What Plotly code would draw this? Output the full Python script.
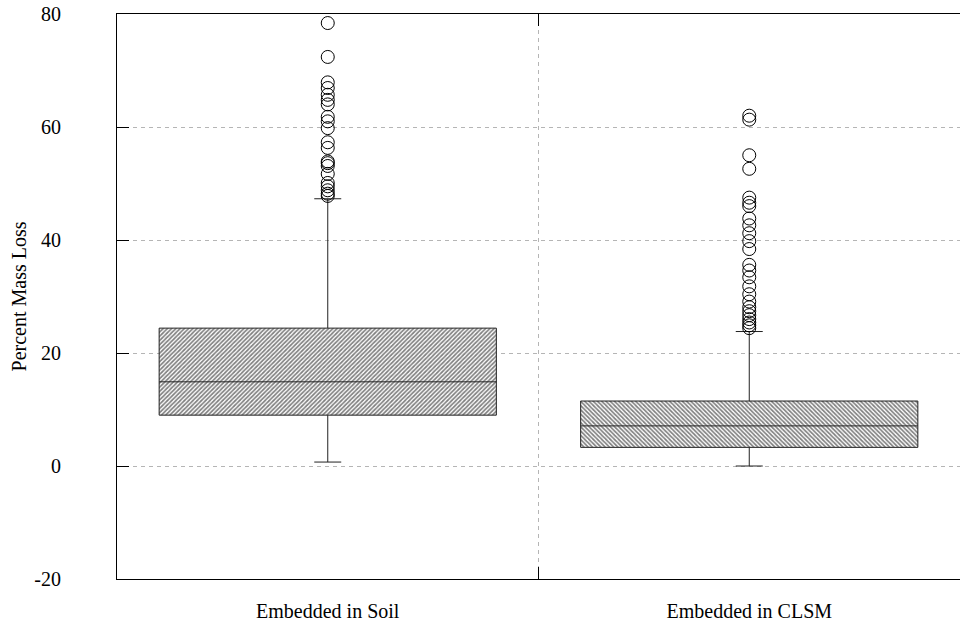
import plotly.graph_objects as go

categories = ["Embedded in Soil", "Embedded in CLSM"]
q1 = [9.0, 3.3]
median = [14.9, 7.1]
q3 = [24.4, 11.5]
lower_fence = [0.7, 0.0]
upper_fence = [47.3, 23.8]

soil_outliers = [78.4, 72.4, 67.9, 66.9, 65.7, 64.8, 64.0, 61.8, 61.0, 59.8, 57.3, 56.3,
                 53.9, 53.6, 53.1, 51.7, 50.1, 49.5, 48.8, 48.2, 47.8]
clsm_outliers = [62.0, 61.3, 55.0, 52.6, 47.5, 46.6, 46.0, 43.8, 42.6, 41.2, 39.8, 38.4,
                 35.6, 34.6, 33.4, 31.8, 30.4, 29.1, 28.1, 27.4, 26.7, 26.0, 25.4, 24.9, 24.4]
patterns = ["/", "\\"]
tick_vals = [-20, 0, 20, 40, 60, 80]
tick_text = ["-20", "0", "20", "40", "60", "80"]

FONT = "Liberation Serif"
FS = 20

fig = go.Figure()

for i, cat in enumerate(categories):
    fig.add_trace(go.Bar(
        x=[cat], y=[q3[i] - q1[i]], base=[q1[i]], width=0.8,
        marker=dict(color="white", line=dict(width=0),
                    pattern=dict(shape=patterns[i], fgcolor="black", bgcolor="white",
                                 size=3, solidity=0.55)),
        showlegend=False, hoverinfo="skip"))

for i, cat in enumerate(categories):
    fig.add_trace(go.Box(
        x=[cat], q1=[q1[i]], median=[median[i]], q3=[q3[i]],
        lowerfence=[lower_fence[i]], upperfence=[upper_fence[i]],
        width=0.8, whiskerwidth=0.08, boxpoints=False,
        fillcolor="rgba(0,0,0,0)", line=dict(color="#222222", width=1),
        showlegend=False))

for cat, vals in zip(categories, [soil_outliers, clsm_outliers]):
    fig.add_trace(go.Scatter(
        x=[cat] * len(vals), y=vals, mode="markers",
        marker=dict(symbol="circle-open", size=13, color="black", line=dict(width=1)),
        showlegend=False))

fig.update_layout(
    width=960, height=628,
    margin=dict(l=117, r=0, t=14, b=49),
    plot_bgcolor="white", paper_bgcolor="white",
    barmode="overlay", boxmode="overlay",
    font=dict(family=FONT, size=FS, color="black"),
)
fig.update_xaxes(
    type="category", categoryorder="array", categoryarray=categories,
    range=[-0.5, 1.5], tickson="boundaries", automargin=False,
    ticks="inside", ticklen=12, tickcolor="black",
    showline=True, linecolor="black", linewidth=1, mirror="ticks",
    showgrid=True, gridcolor="#b5b5b5", griddash="4px,4px", gridwidth=1,
    tickfont=dict(family=FONT, size=FS), zeroline=False, ticklabelstandoff=14,
)
fig.update_yaxes(
    range=[-20, 80], tickvals=tick_vals, ticktext=tick_text, automargin=False,
    ticks="inside", ticklen=12, tickcolor="black",
    showline=True, linecolor="black", linewidth=1, mirror=False,
    showgrid=True, gridcolor="#b5b5b5", griddash="4px,4px", gridwidth=1,
    zeroline=False, tickfont=dict(family=FONT, size=FS), ticklabelstandoff=51,
    title=dict(text="Percent Mass Loss", font=dict(family=FONT, size=FS), standoff=2),
)

fig.write_html("out.html")
